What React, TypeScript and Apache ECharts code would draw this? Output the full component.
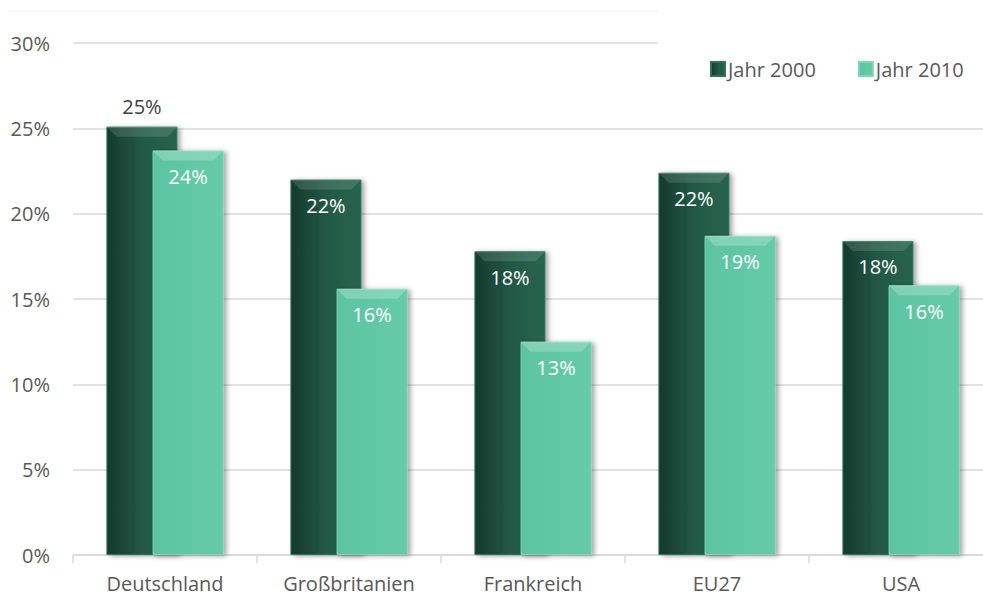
import React, { useEffect, useRef } from "react";
import * as echarts from "echarts";

const categories = ["Deutschland", "Großbritanien", "Frankreich", "EU27", "USA"];
const year2000 = [25.1, 22.0, 17.8, 22.4, 18.4];
const year2010 = [23.7, 15.6, 12.5, 18.7, 15.8];
const seriesNames = ["Jahr 2000", "Jahr 2010"];
const yTicks = [0, 5, 10, 15, 20, 25, 30];

const FONT = "'Open Sans', Lato, sans-serif";

export default function App() {
  const ref = useRef<HTMLDivElement>(null);
  useEffect(() => {
    if (!ref.current) return;
    const chart = echarts.init(ref.current, null, { renderer: "svg" });
    const darkColor = new echarts.graphic.LinearGradient(0, 0, 1, 0, [
      { offset: 0, color: "#153a2d" },
      { offset: 0.5, color: "#225845" },
      { offset: 1, color: "#28654f" },
    ]);
    const lightColor = new echarts.graphic.LinearGradient(0, 0, 1, 0, [
      { offset: 0, color: "#5cc4a1" },
      { offset: 1, color: "#66cba9" },
    ]);
    const BAR_W = 71;
    const GROUP_OFFSET = 23;
    const bevelItem = (vals: number[], side: number, fill: string) => (params: any, api: any) => {
      const i = params.dataIndex;
      const top = api.coord([i, vals[i]]);
      const cx = top[0] + side * GROUP_OFFSET;
      const x0 = cx - BAR_W / 2;
      const x1 = cx + BAR_W / 2;
      const y0 = top[1];
      const d = 10;
      return {
        type: "polygon",
        shape: {
          points: [
            [x0, y0],
            [x1, y0],
            [x1 - d, y0 + d],
            [x0 + d, y0 + d],
          ],
        },
        style: { fill },
        silent: true,
      };
    };
    const labelCommon = {
      show: true,
      position: "insideTop",
      distance: 16,
      fontSize: 20,
      color: "#ffffff",
      fontFamily: FONT,
      formatter: (p: any) => `${Math.round(p.value)}%`,
    };
    chart.setOption({
      animation: false,
      textStyle: { fontFamily: FONT },
      grid: { left: 73, right: 0, top: 43, bottom: 41 },
      legend: {
        data: seriesNames.map((n) => ({ name: n, icon: "rect" })),
        left: 705,
        top: 54,
        itemWidth: 14,
        itemHeight: 14,
        itemGap: 42,
        textStyle: { fontSize: 20, color: "#595959", fontFamily: FONT, padding: [0, 0, 0, -2] },
        z: 10,
      },
      graphic: [
        {
          type: "rect",
          shape: { x: 658, y: 30, width: 340, height: 70 },
          style: { fill: "#ffffff" },
          z: 5,
        },
        {
          type: "line",
          shape: { x1: 8, y1: 11, x2: 658, y2: 11 },
          style: { stroke: "#f0f0f0", lineWidth: 1 },
          z: 5,
        },
      ],
      xAxis: {
        type: "category",
        data: categories,
        axisLine: { lineStyle: { color: "#d9d9d9", width: 1.5 } },
        axisTick: { show: true, length: 8, lineStyle: { color: "#d9d9d9", width: 1.5 } },
        axisLabel: { fontSize: 20, color: "#595959", margin: 18, fontFamily: FONT },
      },
      yAxis: {
        type: "value",
        min: 0,
        max: 30,
        interval: 5,
        axisLine: { show: false },
        axisTick: { show: false },
        axisLabel: {
          fontSize: 20,
          color: "#595959",
          margin: 23,
          fontFamily: FONT,
          formatter: (v: number) => (yTicks.includes(v) ? `${v}%` : ""),
        },
        splitLine: { lineStyle: { color: "#d9d9d9", width: 1.5 } },
      },
      series: [
        {
          name: seriesNames[0],
          type: "bar",
          data: year2000.map((v, i) => ({
            value: v,
            label:
              i === 0
                ? { position: "top", distance: 10, color: "#404040" }
                : undefined,
          })),
          barWidth: BAR_W,
          barGap: "-35%",
          itemStyle: {
            color: darkColor,
            borderColor: "#2e735c",
            borderWidth: 1,
            shadowColor: "rgba(0,0,0,0.35)",
            shadowBlur: 5,
            shadowOffsetX: 3,
            shadowOffsetY: 1,
          },
          label: labelCommon,
          z: 2,
        },
        {
          name: "bevel2000",
          type: "custom",
          data: year2000,
          renderItem: bevelItem(year2000, -1, "rgba(255,255,255,0.13)"),
          z: 3,
          silent: true,
        },
        {
          name: seriesNames[1],
          type: "bar",
          data: year2010,
          barWidth: BAR_W,
          itemStyle: {
            color: lightColor,
            borderColor: "#7ad8b8",
            borderWidth: 1,
            shadowColor: "rgba(0,0,0,0.35)",
            shadowBlur: 5,
            shadowOffsetX: 3,
            shadowOffsetY: 1,
          },
          label: labelCommon,
          z: 4,
        },
        {
          name: "bevel2010",
          type: "custom",
          data: year2010,
          renderItem: bevelItem(year2010, 1, "rgba(255,255,255,0.22)"),
          z: 5,
          silent: true,
        },
      ],
    });
    return () => chart.dispose();
  }, []);
  return (
    <div style={{ position: "absolute", left: 0, top: 0, width: 983, height: 596, overflow: "hidden" }}>
      <div ref={ref} style={{ width: 993, height: 596 }} />
    </div>
  );
}
